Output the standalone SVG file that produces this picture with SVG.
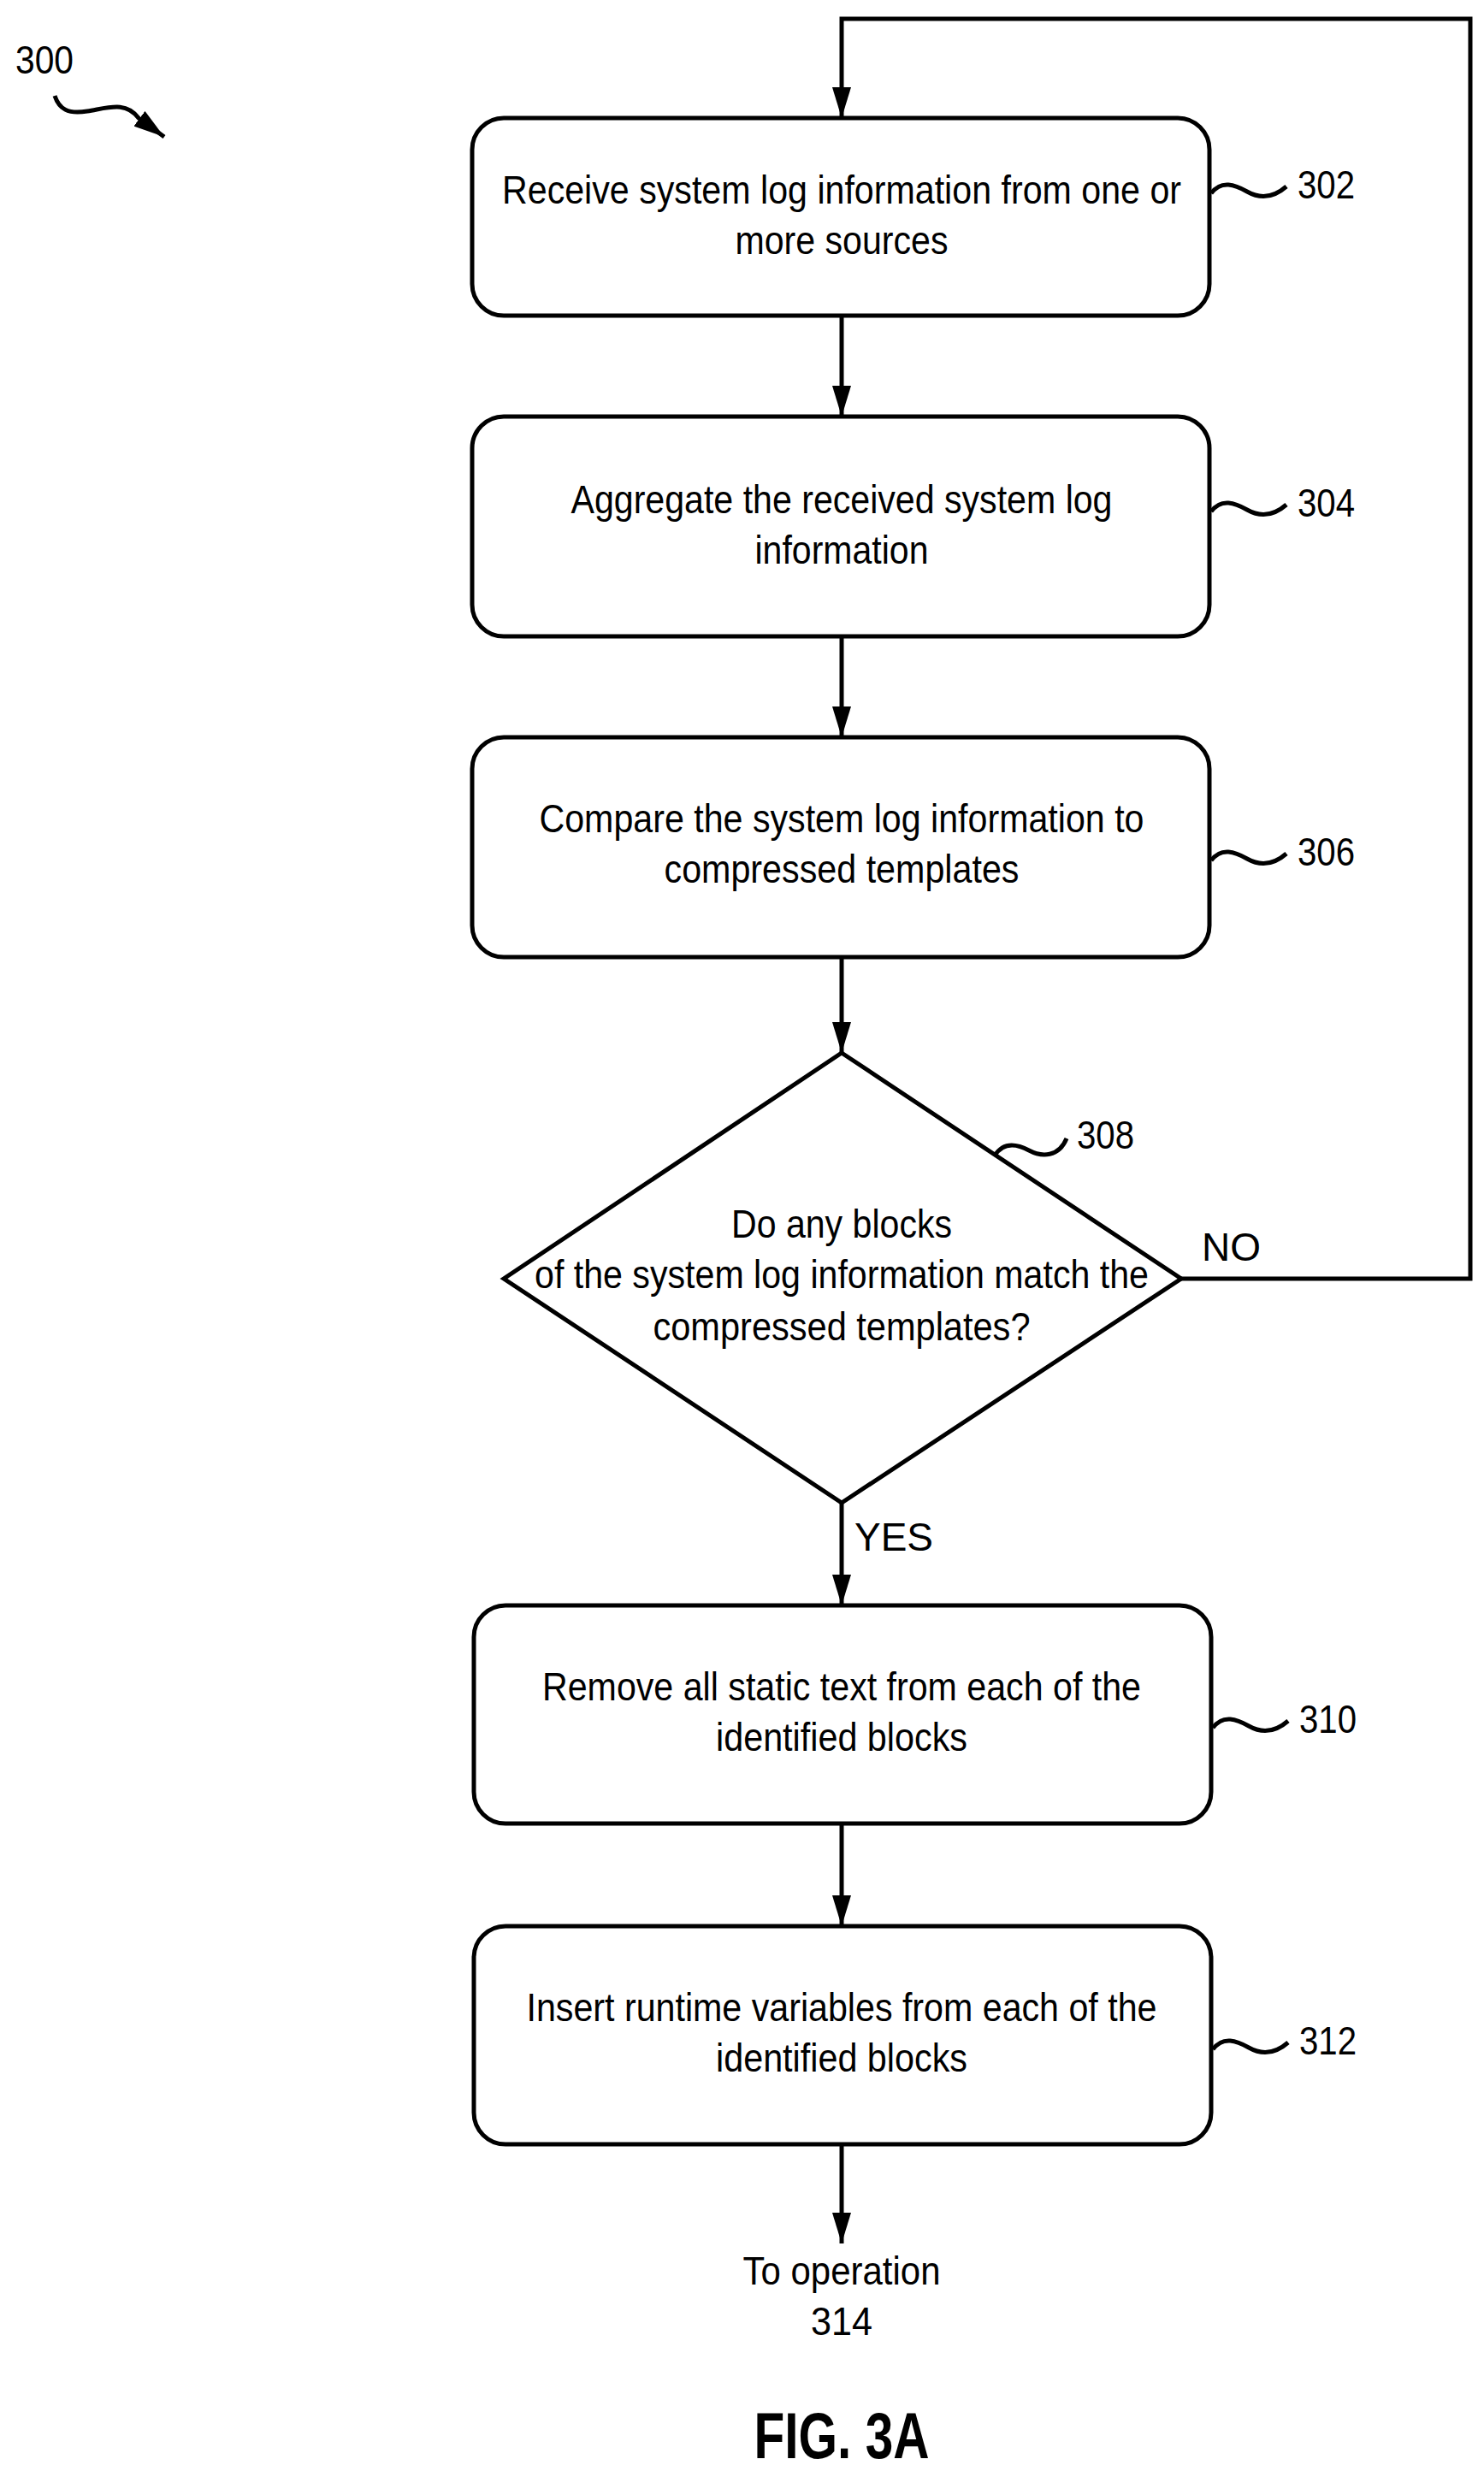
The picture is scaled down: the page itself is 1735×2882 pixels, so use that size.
<svg xmlns="http://www.w3.org/2000/svg" width="1735" height="2882" viewBox="0 0 1735 2882">
<style>
.b{fill:#fff;stroke:#000;stroke-width:5}
.t{font-family:"Liberation Sans",Arial,sans-serif;font-size:46px;fill:#000;text-anchor:middle}
.l{font-family:"Liberation Sans",Arial,sans-serif;font-size:46px;fill:#000}
.c{fill:none;stroke:#000;stroke-width:5}
.w{fill:none;stroke:#000;stroke-width:5}
</style>
<defs>
<marker id="ah" viewBox="0 0 36 22" refX="36" refY="11" markerWidth="36" markerHeight="22" orient="auto" markerUnits="userSpaceOnUse"><path d="M0,0 L36,11 L0,22 Z" fill="#000"/></marker></defs>
<g id="connectors">
<path class="c" d="M984,369 V487" marker-end="url(#ah)"/>
<path class="c" d="M984,744 V862" marker-end="url(#ah)"/>
<path class="c" d="M984,1119 V1231" marker-end="url(#ah)"/>
<path class="c" d="M1381,1495 H1719 V22 H984 V138" marker-end="url(#ah)"/>
<path class="c" d="M984,1757 V1877" marker-end="url(#ah)"/>
<path class="c" d="M984,2132 V2252" marker-end="url(#ah)"/>
<path class="c" d="M984,2507 V2623" marker-end="url(#ah)"/>
<text class="l" x="1405" y="1474">NO</text>
<text class="l" x="999" y="1813">YES</text>
</g>
<g id="n300"><text class="l" x="18" y="86" textLength="68" lengthAdjust="spacingAndGlyphs">300</text>
<path class="w" d="M64,112 c5,15 15,22 38,18 c25,-4 45,-12 60,8 l30,22" marker-end="url(#ah)"/></g>
<g id="n302"><rect class="b" x="552" y="138" width="862" height="231" rx="37"/>
<text class="t" x="984" y="238" textLength="794" lengthAdjust="spacingAndGlyphs">Receive system log information from one or</text>
<text class="t" x="984" y="297" textLength="249" lengthAdjust="spacingAndGlyphs">more sources</text>
<path class="w" d="M1416,226 c12,-16 28,-10 42,-2 s30,8 46,-6"/><text class="l" x="1517" y="232" textLength="67" lengthAdjust="spacingAndGlyphs">302</text></g>
<g id="n304"><rect class="b" x="552" y="487" width="862" height="257" rx="37"/>
<text class="t" x="984" y="600" textLength="633" lengthAdjust="spacingAndGlyphs">Aggregate the received system log</text>
<text class="t" x="984" y="659" textLength="203" lengthAdjust="spacingAndGlyphs">information</text>
<path class="w" d="M1416,598 c12,-16 28,-10 42,-2 s30,8 46,-6"/><text class="l" x="1517" y="604" textLength="67" lengthAdjust="spacingAndGlyphs">304</text></g>
<g id="n306"><rect class="b" x="552" y="862" width="862" height="257" rx="37"/>
<text class="t" x="984" y="973" textLength="707" lengthAdjust="spacingAndGlyphs">Compare the system log information to</text>
<text class="t" x="984" y="1032" textLength="415" lengthAdjust="spacingAndGlyphs">compressed templates</text>
<path class="w" d="M1416,1006 c12,-16 28,-10 42,-2 s30,8 46,-6"/><text class="l" x="1517" y="1012" textLength="67" lengthAdjust="spacingAndGlyphs">306</text></g>
<g id="n308"><path class="b" d="M984,1231 L1381,1495 L984,1757 L589,1495 Z"/>
<text class="t" x="984" y="1447" textLength="258" lengthAdjust="spacingAndGlyphs">Do any blocks</text>
<text class="t" x="984" y="1506" textLength="718" lengthAdjust="spacingAndGlyphs">of the system log information match the</text>
<text class="t" x="984" y="1567" textLength="441" lengthAdjust="spacingAndGlyphs">compressed templates?</text>
<path class="w" d="M1163,1351 c10,-16 25,-14 40,-6 s35,8 44,-14"/><text class="l" x="1259" y="1343" textLength="67" lengthAdjust="spacingAndGlyphs">308</text></g>
<g id="n310"><rect class="b" x="554" y="1877" width="862" height="255" rx="37"/>
<text class="t" x="984" y="1988" textLength="700" lengthAdjust="spacingAndGlyphs">Remove all static text from each of the</text>
<text class="t" x="984" y="2047" textLength="294" lengthAdjust="spacingAndGlyphs">identified blocks</text>
<path class="w" d="M1418,2020 c12,-16 28,-10 42,-2 s30,8 46,-6"/><text class="l" x="1519" y="2026" textLength="67" lengthAdjust="spacingAndGlyphs">310</text></g>
<g id="n312"><rect class="b" x="554" y="2252" width="862" height="255" rx="37"/>
<text class="t" x="984" y="2363" textLength="737" lengthAdjust="spacingAndGlyphs">Insert runtime variables from each of the</text>
<text class="t" x="984" y="2422" textLength="294" lengthAdjust="spacingAndGlyphs">identified blocks</text>
<path class="w" d="M1418,2396 c12,-16 28,-10 42,-2 s30,8 46,-6"/><text class="l" x="1519" y="2402" textLength="67" lengthAdjust="spacingAndGlyphs">312</text></g>
<g id="n314"><text class="t" x="984" y="2671" textLength="231" lengthAdjust="spacingAndGlyphs">To operation</text>
<text class="t" x="984" y="2730" textLength="72" lengthAdjust="spacingAndGlyphs">314</text></g>
<g id="fig"><text class="t" x="984" y="2874" style="font-weight:bold;font-size:76px" textLength="205" lengthAdjust="spacingAndGlyphs">FIG. 3A</text></g>
</svg>
